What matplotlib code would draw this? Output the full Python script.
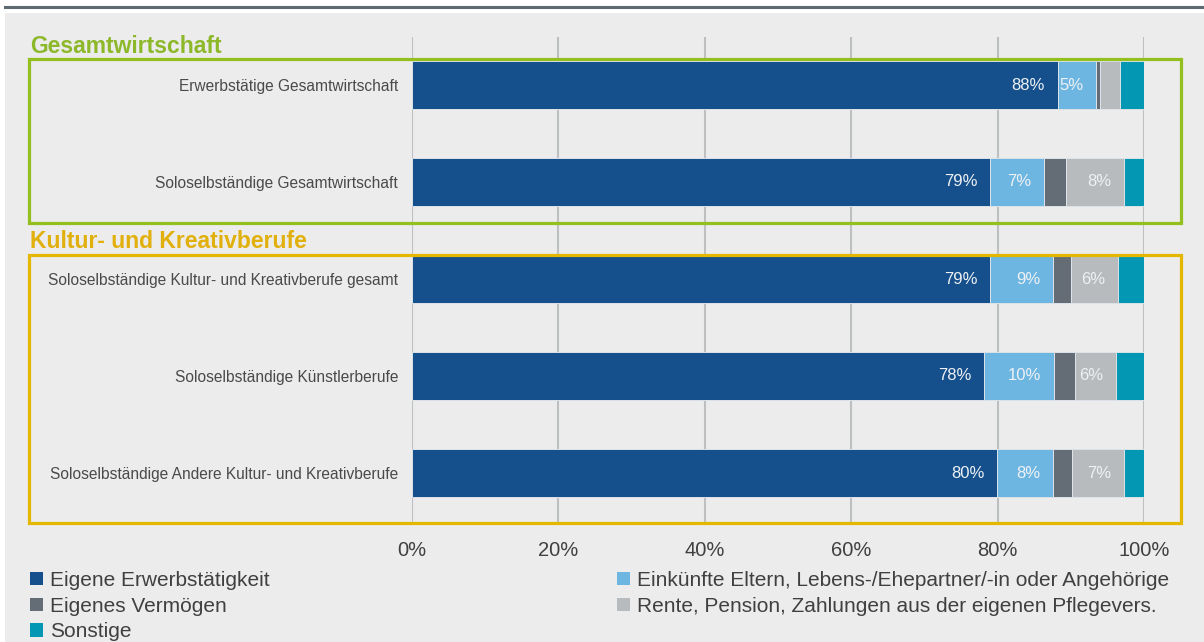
import matplotlib
matplotlib.use("Agg")
import matplotlib.pyplot as plt
from matplotlib.patches import Rectangle
from matplotlib.lines import Line2D
import numpy as np

plt.rcParams['font.family'] = ['Liberation Sans', 'DejaVu Sans']

# shares of income sources per group (percent)
categories = [
    "Erwerbstätige Gesamtwirtschaft",
    "Soloselbständige Gesamtwirtschaft",
    "Soloselbständige Kultur- und Kreativberufe gesamt",
    "Soloselbständige Künstlerberufe",
    "Soloselbständige Andere Kultur- und Kreativberufe",
]
eigene_erwerb = [88.2, 79.0, 79.0, 78.1, 79.9]
einkuenfte_angeh = [5.2, 7.3, 8.6, 9.6, 7.6]
eigenes_vermoegen = [0.6, 3.0, 2.4, 2.9, 2.6]
rente_pension = [2.7, 8.0, 6.4, 5.6, 7.1]
sonstige = [3.3, 2.7, 3.6, 3.8, 3.2]

series_labels = [
    "Eigene Erwerbstätigkeit",
    "Einkünfte Eltern, Lebens-/Ehepartner/-in oder Angehörige",
    "Eigenes Vermögen",
    "Rente, Pension, Zahlungen aus der eigenen Pflegevers.",
    "Sonstige",
]
series_values = [eigene_erwerb, einkuenfte_angeh, eigenes_vermoegen, rente_pension, sonstige]
series_colors = ["#15508D", "#6DB6E2", "#646C76", "#B7BBBE", "#0497B3"]

groups = ["Gesamtwirtschaft", "Kultur- und Kreativberufe"]
group_colors = ["#93BF1F", "#E4B700"]
group_text_colors = ["#8CB82A", "#E2B00C"]

W, H = 1204, 642
fig = plt.figure(figsize=(W / 100, H / 100), dpi=100, facecolor="white")

def fx(px):
    return px / W

def fy(py):
    return 1 - py / H

# grey panel and top rule
fig.patches.append(Rectangle((fx(5), 0), 1 - fx(5), fy(13), transform=fig.transFigure,
                             facecolor="#ECECEC", edgecolor="none", zorder=-5))
fig.lines.append(Line2D([fx(5), 1], [fy(6.5), fy(6.5)], transform=fig.transFigure,
                        color="#5E6A72", linewidth=2.2))

ax = fig.add_axes([fx(412), fy(521.5), fx(1144) - fx(412), (521.5 - 36.5) / H])
ax.set_facecolor("none")

y = np.arange(len(categories))
left = np.zeros(len(categories))
containers = []
for vals, col, lab in zip(series_values, series_colors, series_labels):
    vals = np.array(vals)
    bars = ax.barh(y, vals, left=left, height=0.5, color=col, edgecolor="#DDE3E8",
                   linewidth=0.7, label=lab, zorder=3)
    containers.append(bars)
    for yi, l, v in zip(y, left, vals):
        if v >= 4.5:
            ax.annotate(f"{v:.0f}%", xy=(l + v, yi), xytext=(-9, 0), textcoords="offset points",
                        ha="right", va="center", color="#EEF1F3", fontsize=12, zorder=4)
    left = left + vals

ax.set_xlim(0, 100)
ax.set_ylim(4.5, -0.5)
ax.set_xticks(np.arange(0, 101, 20))
ax.set_xticklabels([f"{t}%" for t in range(0, 101, 20)], fontsize=14.5, color="#404040")
ax.set_yticks(y)
ax.set_yticklabels(categories, fontsize=11.2, color="#4A4A4A")
ax.tick_params(axis="both", length=0)
ax.tick_params(axis="x", pad=14)
ax.tick_params(axis="y", pad=10)
ax.grid(axis="x", color="#BDBFC1", linewidth=1.5, zorder=1)
for s in ax.spines.values():
    s.set_visible(False)

# group frames and headings
frames = [(29, 59, 1181, 223), (29, 255, 1181, 523)]
head_y = [53, 248]
for (x0, y0, x1, y1), col, tcol, name, hy in zip(frames, group_colors, group_text_colors, groups, head_y):
    fig.patches.append(Rectangle((fx(x0), fy(y1)), fx(x1) - fx(x0), fy(y0) - fy(y1),
                                 transform=fig.transFigure, fill=False, edgecolor=col,
                                 linewidth=2.3, zorder=5))
    fig.text(fx(30), fy(hy), name, color=tcol, fontsize=16.5, fontweight="bold", va="baseline")

# legend in two columns
handles = [c.patches[0] for c in containers]
leg_kw = dict(frameon=False, fontsize=15, handlelength=0.6, handleheight=0.6,
              handletextpad=0.35, labelspacing=0.32, borderpad=0, borderaxespad=0,
              labelcolor="#404040", loc="upper left")
leg1 = fig.legend([handles[0], handles[2], handles[4]],
                  [series_labels[0], series_labels[2], series_labels[4]],
                  bbox_to_anchor=(fx(30), fy(571)), **leg_kw)
leg2 = fig.legend([handles[1], handles[3]], [series_labels[1], series_labels[3]],
                  bbox_to_anchor=(fx(617), fy(571)), **leg_kw)
for leg in (leg1, leg2):
    for p in leg.get_patches():
        p.set_edgecolor("none")

fig.savefig("out.png", dpi=100, facecolor=fig.get_facecolor())
